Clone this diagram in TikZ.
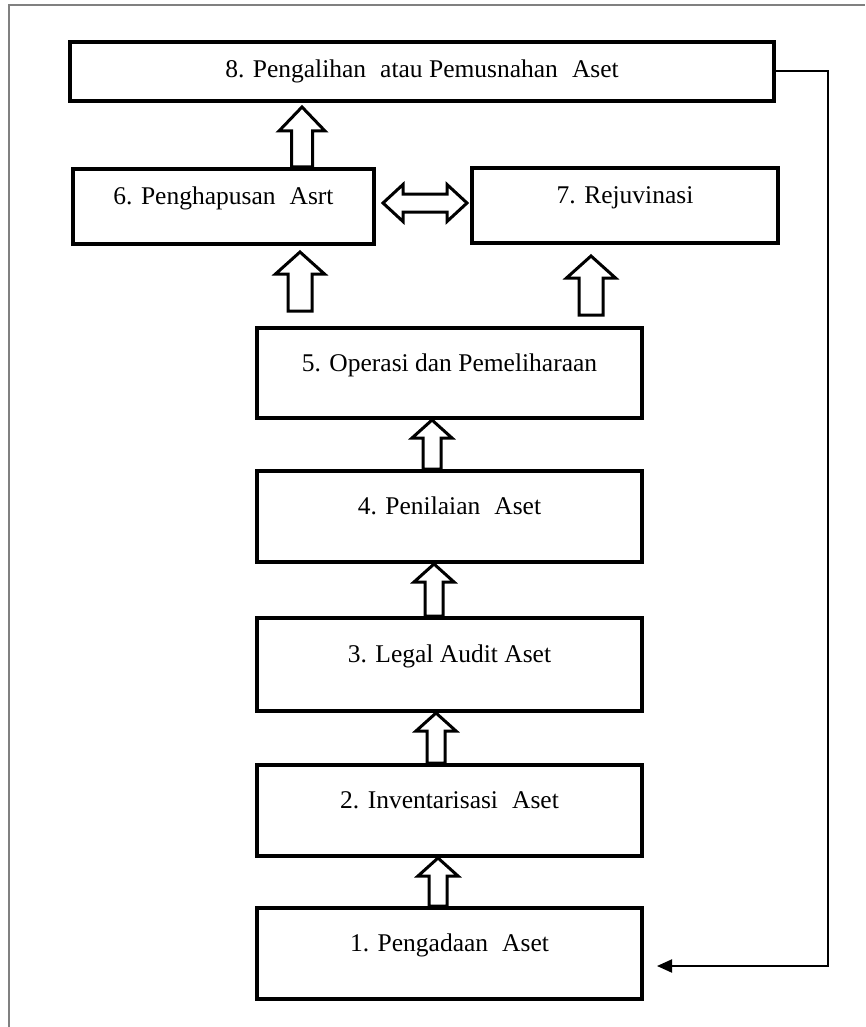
\documentclass[tikz,border=0pt]{standalone}
\usepackage{fontspec}
\setmainfont{Liberation Serif}
\usetikzlibrary{calc,arrows.meta}

\tikzset{
  stage/.style={draw=black, line width=4pt, fill=white, inner sep=0pt,
    font=\fontsize{25.5}{30}\selectfont, text height=16pt, text depth=20pt,
    minimum width=385pt, minimum height=91pt},
  topstage/.style={stage, text depth=3pt},
  blockarrow/.style={draw=black, line width=3pt, fill=white, line join=miter},
  feedback/.style={draw=black, line width=2pt, -{Triangle[length=15pt,width=13pt]}},
  frameline/.style={draw=gray, line width=1.5pt},
}

% wide word gap
\newcommand\wgap{\hspace{0.55em}}

% upward block arrow: #1 x position, #2 tail point, #3 tip point,
% #4 shaft half width, #5 head half width, #6 head length
\newcommand\upblock[6]{%
  \draw[blockarrow] let \p1=(#2), \p2=(#3) in
    (#1-#4,\y1) -- (#1-#4,\y2-#6) -- (#1-#5,\y2-#6) -- (#1,\y2)
    -- (#1+#5,\y2-#6) -- (#1+#4,\y2-#6) -- (#1+#4,\y1) -- cycle;}

% horizontal double block arrow: #1 left tip, #2 right tip,
% #3 shaft half height, #4 head half height, #5 head length
\newcommand\dblblock[5]{%
  \draw[blockarrow] let \p1=(#1), \p2=(#2) in
    (\x1,\y1) -- (\x1+#5,\y1+#4) -- (\x1+#5,\y1+#3) -- (\x2-#5,\y1+#3)
    -- (\x2-#5,\y1+#4) -- (\x2,\y1) -- (\x2-#5,\y1-#4) -- (\x2-#5,\y1-#3)
    -- (\x1+#5,\y1-#3) -- (\x1+#5,\y1-#4) -- cycle;}

\begin{document}
\begin{tikzpicture}[x=1pt,y=1pt]
\useasboundingbox (0,0) rectangle (865,-1027);

% page frame
\draw[frameline] (9,-1027) -- (9,-5) -- (865,-5);

% stages
\node[topstage, minimum width=704pt, minimum height=59pt] (b8) at (422,-71.5)
  {8. Pengalihan\wgap atau Pemusnahan\wgap Aset};
\node[stage, minimum width=301pt, minimum height=75pt] (b6) at (223.5,-206.5)
  {6. Penghapusan\wgap Asrt};
\node[stage, minimum width=306pt, minimum height=75pt] (b7) at (625,-205.5)
  {7. Rejuvinasi};
\node[stage, minimum height=90pt] (b5) at (449.5,-373) {5. Operasi dan Pemeliharaan};
\node[stage] (b4) at (449.5,-516.5) {4. Penilaian\wgap Aset};
\node[stage, minimum height=93pt] (b3) at (449.5,-664.5) {3. Legal Audit Aset};
\node[stage] (b2) at (449.5,-810.5) {2. Inventarisasi\wgap Aset};
\node[stage] (b1) at (449.5,-953.5) {1. Pengadaan\wgap Aset};

% block arrows along the main sequence
\upblock{438pt}{b1.north}{b2.south}{9pt}{20pt}{18pt}
\upblock{436pt}{b2.north}{b3.south}{9pt}{20pt}{18pt}
\upblock{434pt}{b3.north}{b4.south}{9pt}{20pt}{18pt}
\upblock{432pt}{b4.north}{b5.south}{9pt}{20pt}{18pt}

% branches from stage 5 and link to stage 8
\upblock{300pt}{[yshift=15pt]b5.north}{[yshift=-6pt]b6.south}{12pt}{24.5pt}{22pt}
\upblock{591pt}{[yshift=11pt]b5.north}{[yshift=-11pt]b7.south}{12pt}{24.5pt}{22pt}
\upblock{302pt}{b6.north}{[yshift=-4pt]b8.south}{10.5pt}{23pt}{24pt}

% two-way link between stages 6 and 7
\dblblock{[xshift=7pt,yshift=3.5pt]b6.east}{[xshift=-3pt]b7.west}{9pt}{18.5pt}{20pt}

% feedback from stage 8 back to stage 1
\coordinate (fbx) at (828,0);
\coordinate (fbend) at (657,-966);
\draw[feedback] (b8.east) -- (b8.east -| fbx) |- (fbend);
\end{tikzpicture}
\end{document}
